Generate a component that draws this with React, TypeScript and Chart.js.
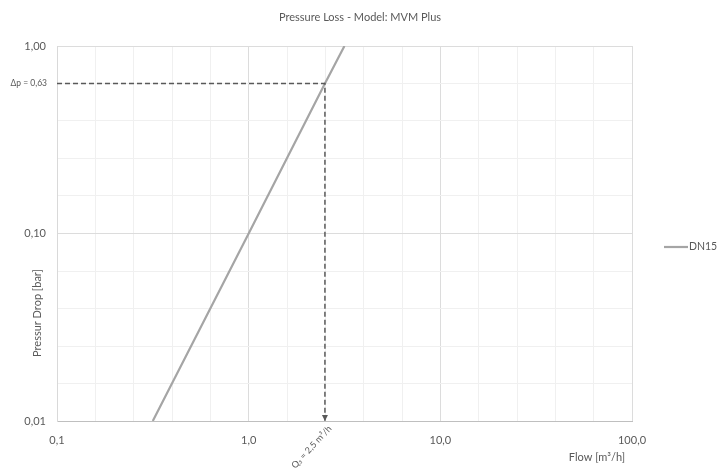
import React, { useEffect, useRef } from "react";
import { Chart, registerables } from "chart.js";

Chart.register(...registerables);

const seriesName = "DN15";
const flow = [0.316, 1.0, 2.5, 3.16];
const pressureDrop = [0.01, 0.1, 0.63, 1.0];

const nominalFlow = 2.5;
const nominalDrop = 0.63;

const xTickValues = [0.1, 1, 10, 100];
const yTickValues = [0.01, 0.1, 1];
const xTickLabels = ["0,1", "1,0", "10,0", "100,0"];
const yTickLabels = ["0,01", "0,10", "1,00"];

const titleText = "Pressure Loss - Model: MVM Plus";
const xTitle = "Flow [m³/h]";
const yTitle = "Pressur Drop [bar]";
const dpLabel = "Δp = 0,63";
const q3Label = "Q₃ = 2,5 m³/h";

const FONT = "Lato, 'Open Sans', sans-serif";
const TEXT = "#595959";

function gridTicks(decades: number[]) {
  const out: { value: number; major: boolean }[] = [];
  for (let d = 0; d < decades.length; d++) {
    out.push({ value: decades[d], major: true });
    if (d < decades.length - 1) {
      for (let k = 1; k < 5; k++) {
        out.push({ value: decades[d] * Math.pow(10, k / 5), major: false });
      }
    }
  }
  return out;
}

export default function App() {
  const ref = useRef<HTMLCanvasElement | null>(null);
  useEffect(() => {
    if (!ref.current) return;
    const annot = {
      id: "annot",
      afterDraw(chart: any) {
        const ctx = chart.ctx;
        const xs = chart.scales.x;
        const ys = chart.scales.y;
        const area = chart.chartArea;
        ctx.save();
        ctx.fillStyle = TEXT;
        // title
        ctx.font = `11px ${FONT}`;
        ctx.textAlign = "center";
        ctx.textBaseline = "middle";
        ctx.fillText(titleText, 360, 17);
        // x title
        ctx.fillText(xTitle, 597, 457);
        // y title
        ctx.save();
        ctx.translate(37, 313);
        ctx.rotate(-Math.PI / 2);
        ctx.fillText(yTitle, 0, 0);
        ctx.restore();
        // legend
        const ly = 247;
        ctx.strokeStyle = "#A5A5A5";
        ctx.lineWidth = 2.2;
        ctx.beginPath();
        ctx.moveTo(664, ly);
        ctx.lineTo(688, ly);
        ctx.stroke();
        ctx.textAlign = "left";
        ctx.font = `10.5px ${FONT}`;
        ctx.fillText(seriesName, 689, ly);
        // dp label
        const py = ys.getPixelForValue(nominalDrop);
        ctx.font = `8.5px ${FONT}`;
        ctx.textAlign = "right";
        ctx.fillText(dpLabel, 47, py);
        // arrow
        const px = xs.getPixelForValue(nominalFlow);
        ctx.beginPath();
        ctx.moveTo(px - 3, area.bottom - 6);
        ctx.lineTo(px + 3, area.bottom - 6);
        ctx.lineTo(px, area.bottom);
        ctx.closePath();
        ctx.fill();
        // Q3 label
        ctx.save();
        ctx.translate(px + 5, area.bottom + 6);
        ctx.rotate(-Math.PI / 4 - 0.04);
        ctx.font = `9px ${FONT}`;
        ctx.textAlign = "right";
        ctx.textBaseline = "middle";
        ctx.fillText(q3Label, 0, 0);
        ctx.restore();
        ctx.restore();
      },
    };

    const chart = new Chart(ref.current, {
      type: "line",
      data: {
        datasets: [
          {
            label: seriesName,
            data: flow.map((f, i) => ({ x: f, y: pressureDrop[i] })),
            borderColor: "#A5A5A5",
            borderWidth: 2.2,
            pointRadius: 0,
            tension: 0,
            order: 2,
          },
          {
            label: "nominal",
            data: [
              { x: xTickValues[0], y: nominalDrop },
              { x: nominalFlow, y: nominalDrop },
              { x: nominalFlow, y: yTickValues[0] },
            ],
            borderColor: "#595959",
            borderWidth: 1.5,
            borderDash: [5, 3],
            pointRadius: 0,
            tension: 0,
            order: 1,
          },
        ],
      },
      options: {
        animation: false,
        responsive: false,
        maintainAspectRatio: false,
        layout: { padding: { left: 0, top: 46, right: 88, bottom: 0 } },
        plugins: { legend: { display: false }, title: { display: false }, tooltip: { enabled: false } },
        scales: {
          x: {
            type: "logarithmic",
            min: xTickValues[0],
            max: xTickValues[xTickValues.length - 1],
            afterBuildTicks: (s: any) => {
              s.ticks = gridTicks(xTickValues);
            },
            afterFit: (s: any) => {
              s.height = 49;
            },
            grid: {
              drawTicks: false,
              color: (c: any) => (c.tick && c.tick.major ? "#DCDCDC" : "#F0F0F0"),
              lineWidth: 1,
            },
            border: { display: true, color: "#BFBFBF", width: 1 },
            ticks: {
              autoSkip: false,
              maxRotation: 0,
              padding: 13,
              color: TEXT,
              font: { family: FONT, size: 11 },
              callback: (v: any, i: number) => (i % 5 === 0 ? xTickLabels[i / 5] : ""),
            },
          },
          y: {
            type: "logarithmic",
            min: yTickValues[0],
            max: yTickValues[yTickValues.length - 1],
            afterBuildTicks: (s: any) => {
              s.ticks = gridTicks(yTickValues);
            },
            afterFit: (s: any) => {
              s.width = 57;
            },
            grid: {
              drawTicks: false,
              color: (c: any) => (c.tick && c.tick.major ? "#DCDCDC" : "#F0F0F0"),
              lineWidth: 1,
            },
            border: { display: true, color: "#D9D9D9", width: 1 },
            ticks: {
              autoSkip: false,
              padding: 11,
              color: TEXT,
              font: { family: FONT, size: 11 },
              callback: (v: any, i: number) => (i % 5 === 0 ? yTickLabels[i / 5] : ""),
            },
          },
        },
      },
      plugins: [annot],
    } as any);
    return () => chart.destroy();
  }, []);

  return (
    <div style={{ position: "fixed", left: 0, top: 0, width: 720, height: 470, background: "#fff" }}>
      <canvas ref={ref} width={720} height={470} style={{ width: 720, height: 470 }} />
    </div>
  );
}
